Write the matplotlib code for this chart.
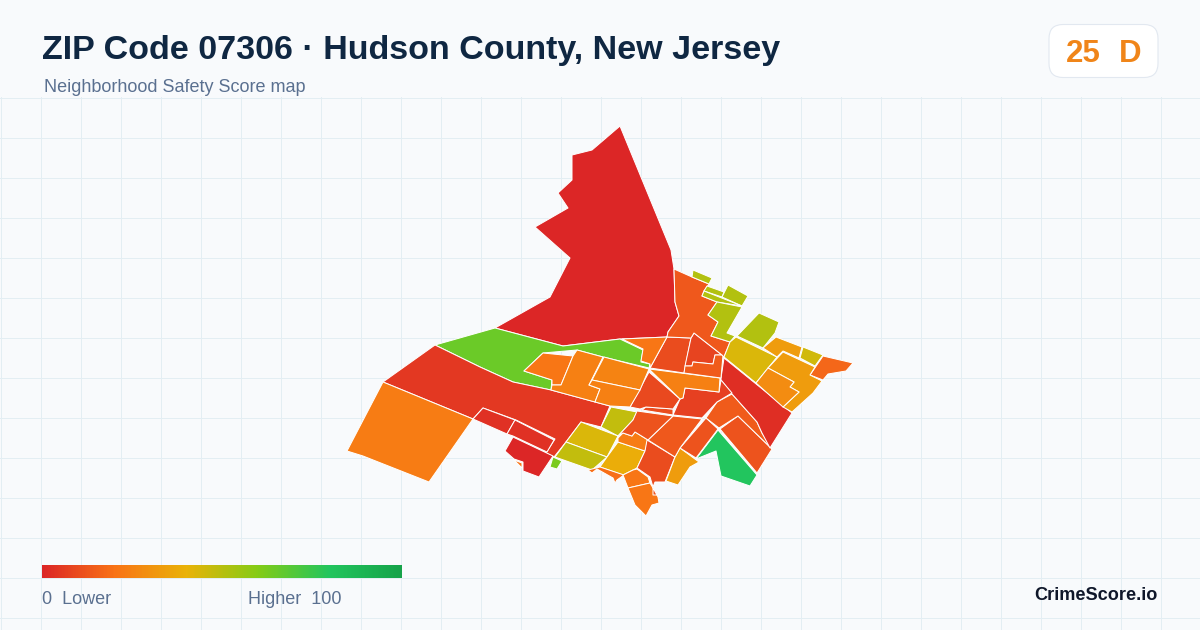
import matplotlib
matplotlib.use("Agg")
import matplotlib.pyplot as plt
import numpy as np
from matplotlib.colors import LinearSegmentedColormap
from matplotlib.patches import Polygon, FancyBboxPatch

plt.rcParams['font.family'] = ['Liberation Sans', 'DejaVu Sans']

TITLE = "ZIP Code 07306 · Hudson County, New Jersey"
SUBTITLE = "Neighborhood Safety Score map"
SCORE_LABEL = "25"
GRADE_LABEL = "D"
BRAND = "CrimeScore.io"
LOW_LABEL = "0  Lower"
HIGH_LABEL = "Higher  100"

SCALE_STOPS = [0.0, 0.2, 0.4, 0.6, 0.8, 1.0]
SCALE_COLORS = ["#dc2626", "#f97316", "#eab308", "#84cc16", "#22c55e", "#16a34a"]

# Tract outlines (x, y in map units) with their scores
tracts = [
    (0, [(620,126),(671,250),(674,269),(675,302),(679,316),(668,332),(667,337),(620,339),(563,346),(495,328),(550,297),(570,258),(535,227),(568,208),(558,193),(572,180),(572,155),(592,150)]),
    (65, [(435,345),(495,328),(563,346),(620,339),(643,350),(641,362),(650,364),(649,368),(603,357),(577,350),(543,353),(524,371),(552,380),(551,390),(513,382),(480,367)]),
    (5, [(435,345),(480,367),(513,382),(551,390),(610,406),(601,427),(581,422),(566,442),(554,457),(546,453),(555,439),(516,420),(483,408),(473,419),(383,382)]),
    (23, [(383,382),(473,419),(429,482),(363,456),(347,451)]),
    (3, [(483,408),(515,420),(507,434),(473,419)]),
    (3, [(515,420),(554,440),(547,452),(513,436),(507,434)]),
    (0, [(513,437),(553,456),(539,477),(523,471),(523,462),(514,459),(505,451)]),
    (20, [(514,460),(522,463),(522,468)]),
    (62, [(553,457),(562,461),(557,469),(550,467)]),
    (48, [(611,407),(637,412),(633,420),(618,436),(601,427)]),
    (43, [(581,422),(618,436),(607,457),(566,442)]),
    (48, [(566,442),(607,457),(592,470),(555,457)]),
    (38, [(618,442),(645,451),(637,468),(623,475),(600,467),(607,457)]),
    (19, [(600,467),(624,475),(617,480),(615,483),(613,478),(597,469),(592,473),(588,470)]),
    (23, [(618,438),(623,433),(632,436),(635,432),(648,440),(645,451),(618,442)]),
    (21, [(623,475),(633,470),(637,469),(648,477),(650,483),(628,488)]),
    (21, [(628,488),(650,483),(653,488),(658,497),(659,503),(652,505),(646,516),(635,505)]),
    (12, [(653,488),(657,495),(653,495)]),
    (10, [(647,440),(675,457),(665,482),(655,482),(653,487),(650,477),(637,468),(645,451)]),
    (33, [(680,448),(699,462),(690,467),(678,485),(666,481),(675,457)]),
    (80, [(718,430),(757,475),(750,486),(721,476),(716,451),(696,459)]),
    (12, [(720,429),(738,416),(772,449),(757,473)]),
    (12, [(706,418),(718,429),(696,458),(680,448)]),
    (14, [(717,402),(732,394),(757,422),(762,433),(772,449),(738,416),(719,428),(706,418)]),
    (2, [(724,358),(792,413),(770,448),(762,433),(757,422),(732,394),(721,380),(721,378)]),
    (7, [(685,388),(719,392),(721,380),(732,393),(717,402),(702,418),(673,415),(680,399),(683,398)]),
    (13, [(673,416),(702,419),(680,448),(675,457),(648,440)]),
    (12, [(637,411),(673,416),(648,440),(635,432),(632,436),(623,433),(618,436),(633,420)]),
    (10, [(642,410),(646,407),(673,409),(673,415)]),
    (9, [(649,372),(680,399),(673,409),(646,407),(640,409),(630,407)]),
    (24, [(649,369),(720,378),(719,392),(685,388),(683,398),(680,399)]),
    (10, [(667,337),(691,338),(684,373),(650,368)]),
    (21, [(622,339),(667,337),(650,368),(650,364),(641,361),(643,349)]),
    (8, [(691,338),(694,333),(722,355),(715,355),(713,364),(693,362),(692,366),(685,366)]),
    (14, [(685,366),(692,366),(693,362),(713,364),(715,355),(723,355),(721,378),(684,373)]),
    (13, [(674,269),(692,277),(709,284),(704,291),(702,296),(717,302),(708,315),(718,322),(711,336),(730,342),(724,357),(722,355),(694,333),(691,338),(667,337),(668,332),(679,316),(675,302)]),
    (51, [(693,270),(712,278),(709,284),(692,277)]),
    (51, [(707,286),(724,292),(722,297),(704,291)]),
    (51, [(722,297),(728,285),(748,296),(742,306)]),
    (51, [(702,296),(704,291),(742,306),(717,302)]),
    (51, [(717,302),(742,307),(727,333),(735,336),(730,342),(711,336),(718,322),(708,315)]),
    (51, [(759,313),(779,322),(775,333),(763,348),(737,336)]),
    (43, [(736,337),(777,357),(756,383),(724,357),(730,342)]),
    (33, [(776,337),(802,347),(799,358),(783,351),(777,357),(763,348)]),
    (45, [(803,347),(823,355),(815,366),(800,358)]),
    (17, [(823,356),(853,363),(846,371),(828,374),(823,380),(810,375)]),
    (33, [(783,352),(815,367),(810,375),(822,381),(813,393),(792,412),(783,407),(799,392),(790,387),(794,382),(768,368)]),
    (28, [(768,368),(794,382),(790,387),(799,392),(783,407),(756,383)]),
    (21, [(543,353),(573,356),(561,385),(552,385),(552,380),(524,371)]),
    (24, [(577,350),(603,357),(589,385),(600,389),(595,402),(551,390),(552,385),(561,385),(573,356)]),
    (25, [(604,357),(649,369),(640,390),(592,380)]),
    (24, [(592,380),(640,390),(630,407),(610,406),(595,402),(600,389),(589,385)]),
]

cmap = LinearSegmentedColormap.from_list("score", list(zip(SCALE_STOPS, SCALE_COLORS)))

fig = plt.figure(figsize=(12, 6.3), dpi=100, facecolor="#f8fafc")
ax = fig.add_axes([0, 0, 1, 1])
ax.set_facecolor("#f8fafc")
ax.axis("off")

for gx in range(0, 1201, 40):
    ax.plot([gx + .5, gx + .5], [97, 630], color="#e3eef3", lw=0.72, zorder=1)
for gy in range(97, 630, 40):
    ax.plot([0, 1200], [gy + .5, gy + .5], color="#e3eef3", lw=0.72, zorder=1)

for score, ring in tracts:
    ax.add_patch(Polygon(ring, closed=True, facecolor=cmap(score / 100),
                         edgecolor="white", lw=0.72, joinstyle="round", zorder=3))

ax.text(42, 50.5, TITLE, fontsize=24.5, fontweight="bold", color="#0f2742", va="center", ha="left", zorder=5)
ax.text(44, 87, SUBTITLE, fontsize=13, color="#5a7090", va="center", ha="left", zorder=5)

ax.add_patch(FancyBboxPatch((1049, 24.5), 109, 53, boxstyle="round,pad=0,rounding_size=14",
                            facecolor="white", edgecolor="#e2e8f0", lw=0.8, zorder=4))
ax.text(1083, 54, SCORE_LABEL, fontsize=22.5, fontweight="bold", color="#f08519", va="center", ha="center", zorder=5)
ax.text(1130, 54, GRADE_LABEL, fontsize=22.5, fontweight="bold", color="#f08519", va="center", ha="center", zorder=5)

ax.imshow(np.linspace(0, 1, 360).reshape(1, -1), cmap=cmap, extent=(42, 402, 578, 565),
          aspect="auto", zorder=4, vmin=0, vmax=1)
ax.text(42, 599, LOW_LABEL, fontsize=13, color="#5a7090", va="center", ha="left", zorder=5)
ax.text(342, 599, HIGH_LABEL, fontsize=13, color="#5a7090", va="center", ha="right", zorder=5)
ax.text(1158, 595, BRAND, fontsize=13.1, fontweight="bold", color="#0f172a", va="center", ha="right", zorder=5)

ax.set_xlim(0, 1200)
ax.set_ylim(630, 0)
fig.savefig("out.png", dpi=100, facecolor=fig.get_facecolor())
